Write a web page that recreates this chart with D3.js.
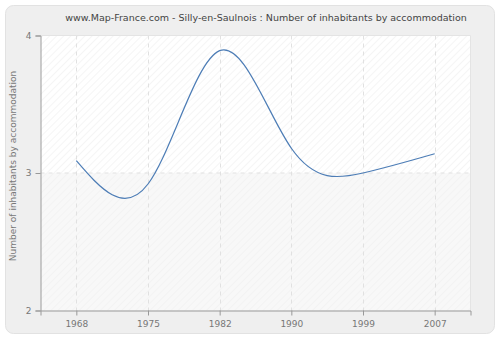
<!DOCTYPE html>
<html>
<head>
<meta charset="utf-8">
<script src="https://cdn.jsdelivr.net/npm/d3@7"></script>
<style>
  html, body { margin: 0; padding: 0; background: #ffffff; }
  svg { display: block; font-family: "DejaVu Sans", Verdana, sans-serif; }
</style>
</head>
<body>
<svg id="chart" width="500" height="340"></svg>
<script>
// Census years and average number of inhabitants per accommodation
const years = ["1968", "1975", "1982", "1990", "1999", "2007"];
const inhabitants = [3.09, 2.92, 3.89, 3.18, 3.00, 3.14];
const yTicks = [2, 3, 4];

const title = "www.Map-France.com - Silly-en-Saulnois : Number of inhabitants by accommodation";
const yTitle = "Number of inhabitants by accommodation";

const svg = d3.select("#chart");
const W = 500, H = 340;
const plot = { left: 40.5, right: 470.5, top: 35.5, bottom: 310.5 };

// Outer rounded panel
svg.append("rect")
  .attr("x", 5.5).attr("y", 5.5)
  .attr("width", 489).attr("height", 328)
  .attr("rx", 8).attr("ry", 8)
  .attr("fill", "#efefef")
  .attr("stroke", "#e2e2e2");

// Diagonal hatch patterns for the plot background
const defs = svg.append("defs");
function hatch(id, bg, line) {
  const p = defs.append("pattern")
    .attr("id", id)
    .attr("patternUnits", "userSpaceOnUse")
    .attr("width", 5).attr("height", 5)
    .attr("patternTransform", "rotate(45)");
  p.append("rect").attr("width", 5).attr("height", 5).attr("fill", bg);
  p.append("line").attr("x1", 0).attr("y1", 0).attr("x2", 0).attr("y2", 5)
    .attr("stroke", line).attr("stroke-width", 1);
}
hatch("hatchTop", "#ffffff", "#ececec");
hatch("hatchBottom", "#f8f8f8", "#efefef");

const x = d3.scalePoint()
  .domain(years)
  .range([plot.left, plot.right])
  .padding(0.5);

const y = d3.scaleLinear()
  .domain([2, 4])
  .range([plot.bottom, plot.top]);

// Background bands between the y ticks
svg.append("rect")
  .attr("x", plot.left).attr("y", y(4))
  .attr("width", plot.right - plot.left).attr("height", y(3) - y(4))
  .attr("fill", "url(#hatchTop)");
svg.append("rect")
  .attr("x", plot.left).attr("y", y(3))
  .attr("width", plot.right - plot.left).attr("height", y(2) - y(3))
  .attr("fill", "url(#hatchBottom)");

// Dashed grid
const grid = svg.append("g")
  .attr("stroke", "#e1e1e1")
  .attr("stroke-dasharray", "4,4")
  .attr("fill", "none");
grid.selectAll("line.v").data(years).join("line")
  .attr("class", "v")
  .attr("x1", d => Math.round(x(d)) + 0.5).attr("x2", d => Math.round(x(d)) + 0.5)
  .attr("y1", plot.top).attr("y2", plot.bottom);
grid.selectAll("line.h").data(yTicks.filter(t => t > 2 && t < 4)).join("line")
  .attr("class", "h")
  .attr("x1", plot.left).attr("x2", plot.right)
  .attr("y1", d => y(d)).attr("y2", d => y(d));

// Top and right border of the plot
svg.append("path")
  .attr("d", `M${plot.left},${plot.top}H${plot.right}V${plot.bottom}`)
  .attr("fill", "none")
  .attr("stroke", "#e4e4e4");

// Population line
const line = d3.line()
  .x((d, i) => x(years[i]))
  .y(d => y(d))
  .curve(d3.curveNatural);
svg.append("path")
  .datum(inhabitants)
  .attr("d", line)
  .attr("fill", "none")
  .attr("stroke", "#4d7db6")
  .attr("stroke-width", 1.2);

// Axes
const axisColor = "#999999";
const textColor = "#777777";

const yAxis = svg.append("g")
  .attr("transform", `translate(${plot.left},0)`)
  .call(d3.axisLeft(y).tickValues(yTicks).tickFormat(d3.format("d")).tickSize(5).tickPadding(4));
const xAxis = svg.append("g")
  .attr("transform", `translate(0,${plot.bottom})`)
  .call(d3.axisBottom(x).tickSize(5).tickPadding(5));

[xAxis, yAxis].forEach(g => {
  g.select(".domain").attr("stroke", axisColor);
  g.selectAll(".tick line").attr("stroke", axisColor);
  g.selectAll(".tick text")
    .attr("fill", textColor)
    .style("font-family", "DejaVu Sans, Verdana, sans-serif")
    .style("font-size", "9px");
});

// Titles
svg.append("text")
  .attr("x", 266).attr("y", 21)
  .attr("text-anchor", "middle")
  .attr("fill", "#444444")
  .style("font-size", "9.5px")
  .text(title);

svg.append("text")
  .attr("transform", `translate(16,${(plot.top + plot.bottom) / 2 - 7}) rotate(-90)`)
  .attr("text-anchor", "middle")
  .attr("fill", textColor)
  .style("font-size", "9px")
  .text(yTitle);
</script>
</body>
</html>
